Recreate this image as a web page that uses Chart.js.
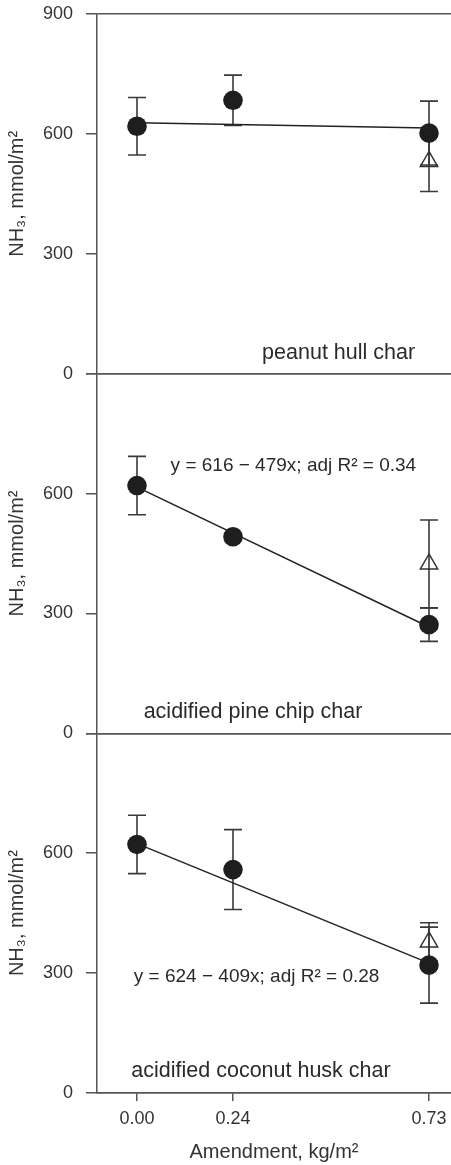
<!DOCTYPE html>
<html>
<head>
<meta charset="utf-8">
<script src="https://cdn.jsdelivr.net/npm/chart.js@4.4.1/dist/chart.umd.min.js"></script>
<style>
  html, body { margin: 0; padding: 0; background: #fff; overflow: hidden; }
  #wrap { width: 451px; height: 1165px; position: relative; }
  canvas { display: block; }
</style>
</head>
<body>
<div id="wrap"><canvas id="nh3"></canvas></div>
<script>
// amendment rates (x) shared by all three panels
const amendment = [0, 0.24, 0.73];
const xTicks = [0, 0.24, 0.73];
const yTicks = [0, 300, 600, 900];

// peanut hull char
const peanutMean = [619, 684, 602];
const peanutErr = [72, 63, 80];
const peanutTri = [531];
const peanutTriErr = [75];
const peanutFit = [628, 615];

// acidified pine chip char
const pineMean = [620, 492, 272];
const pineErr = [73, 6, 42];
const pineTri = [424];
const pineTriErr = [110];
const pineFit = [616, 266];

// acidified coconut husk char
const coconutMean = [622, 559, 320];
const coconutErr = [73, 100, 95];
const coconutTri = [378];
const coconutTriErr = [48];
const coconutFit = [624, 325];

const FONT = "'Liberation Sans', Arial, sans-serif";
const AXIS = "#555";
const INK = "#1e1e1e";

function pts(xs, ys) {
  return ys.map((y, i) => ({ x: xs[i], y: y }));
}

function panelSets(axis, mean, err, tri, triErr, fit) {
  return [
    {
      type: "line",
      data: pts([0, 0.73], fit),
      yAxisID: axis,
      borderColor: "#222",
      borderWidth: 1.5,
      pointRadius: 0,
      fill: false,
    },
    {
      type: "scatter",
      data: pts([0.73], tri),
      errors: triErr,
      yAxisID: axis,
      pointStyle: "triangle",
      pointRadius: 10,
      borderColor: "#333",
      borderWidth: 1.5,
      backgroundColor: "rgba(0,0,0,0)",
    },
    {
      type: "scatter",
      data: pts(amendment, mean),
      errors: err,
      yAxisID: axis,
      pointRadius: 9.8,
      backgroundColor: INK,
      borderColor: INK,
      borderWidth: 0,
    },
  ];
}

// vertical error bars with caps, drawn under the markers
const errorBars = {
  id: "errorBars",
  beforeDatasetsDraw(chart) {
    const ctx = chart.ctx;
    const xs = chart.scales.x;
    ctx.save();
    ctx.strokeStyle = "#3a3a3a";
    ctx.lineWidth = 1.6;
    chart.data.datasets.forEach((ds) => {
      if (!ds.errors) return;
      const ys = chart.scales[ds.yAxisID];
      ds.data.forEach((p, i) => {
        const px = xs.getPixelForValue(p.x);
        const top = ys.getPixelForValue(p.y + ds.errors[i]);
        const bot = ys.getPixelForValue(p.y - ds.errors[i]);
        ctx.beginPath();
        ctx.moveTo(px, top);
        ctx.lineTo(px, bot);
        ctx.moveTo(px - 9, top);
        ctx.lineTo(px + 9, top);
        ctx.moveTo(px - 9, bot);
        ctx.lineTo(px + 9, bot);
        ctx.stroke();
      });
    });
    ctx.restore();
  },
};

// panel labels and regression equations, placed in data coordinates
const notes = [
  { axis: "y1", x: 0.504, y: 52, text: "peanut hull char" },
  { axis: "y2", x: 0.391, y: 670, text: "y = 616 \u2212 479x; adj R\u00b2 = 0.34", eq: true },
  { axis: "y2", x: 0.29, y: 52, text: "acidified pine chip char" },
  { axis: "y3", x: 0.299, y: 290, text: "y = 624 \u2212 409x; adj R\u00b2 = 0.28", eq: true },
  { axis: "y3", x: 0.31, y: 55, text: "acidified coconut husk char" },
];

const panelText = {
  id: "panelText",
  afterDatasetsDraw(chart) {
    const ctx = chart.ctx;
    ctx.save();
    ctx.fillStyle = "#2a2a2a";
    ctx.textAlign = "center";
    ctx.textBaseline = "middle";
    notes.forEach((n) => {
      ctx.font = (n.eq ? "19px " : "21.5px ") + FONT;
      ctx.fillText(n.text, chart.scales.x.getPixelForValue(n.x), chart.scales[n.axis].getPixelForValue(n.y));
    });
    ctx.restore();
  },
};

function yAxis(showTop) {
  return {
    type: "linear",
    position: "left",
    stack: "panels",
    stackWeight: 1,
    min: 0,
    max: 900,
    afterBuildTicks: (s) => { s.ticks = yTicks.map((v) => ({ value: v })); },
    afterFit: (s) => { s.width = 97; s.paddingTop = 0; s.paddingBottom = 0; },
    border: { display: true, color: AXIS, width: 1.5 },
    grid: {
      drawOnChartArea: true,
      tickLength: 11,
      lineWidth: 1.5,
      tickColor: AXIS,
      color: (c) => (c.tick && (c.tick.value === 0 || c.tick.value === 900) ? AXIS : "rgba(0,0,0,0)"),
    },
    ticks: {
      padding: 13,
      color: "#333",
      font: { family: FONT, size: 18 },
      callback: (v) => (v === 900 && !showTop ? "" : String(v)),
    },
    title: {
      display: true,
      text: "NH\u2083, mmol/m\u00b2",
      color: "#333",
      font: { family: FONT, size: 20 },
      padding: { top: 5, bottom: 0 },
    },
  };
}

new Chart(document.getElementById("nh3"), {
  data: {
    datasets: [
      ...panelSets("y1", peanutMean, peanutErr, peanutTri, peanutTriErr, peanutFit),
      ...panelSets("y2", pineMean, pineErr, pineTri, pineTriErr, pineFit),
      ...panelSets("y3", coconutMean, coconutErr, coconutTri, coconutTriErr, coconutFit),
    ],
  },
  options: {
    responsive: true,
    maintainAspectRatio: false,
    animation: false,
    layout: { autoPadding: false, padding: { top: 14, right: 0, left: 0, bottom: 0 } },
    plugins: { legend: { display: false }, tooltip: { enabled: false } },
    scales: {
      x: {
        type: "linear",
        min: -0.1,
        max: 0.785,
        afterBuildTicks: (s) => { s.ticks = xTicks.map((v) => ({ value: v })); },
        afterFit: (s) => { s.height = 72; s.paddingLeft = 0; s.paddingRight = 0; },
        border: { display: true, color: AXIS, width: 1.5 },
        grid: { drawOnChartArea: false, tickLength: 8, tickColor: AXIS, lineWidth: 1.5 },
        ticks: {
          padding: 7,
          color: "#333",
          font: { family: FONT, size: 18 },
          callback: (v) => Number(v).toFixed(2),
        },
        title: {
          display: true,
          text: "Amendment, kg/m\u00b2",
          color: "#333",
          font: { family: FONT, size: 20 },
          padding: { top: 0, bottom: 1 },
        },
      },
      // stacked boxes are placed bottom-up, so the bottom panel comes first
      y3: yAxis(false),
      y2: yAxis(false),
      y1: yAxis(true),
    },
  },
  plugins: [errorBars, panelText],
});
</script>
</body>
</html>
